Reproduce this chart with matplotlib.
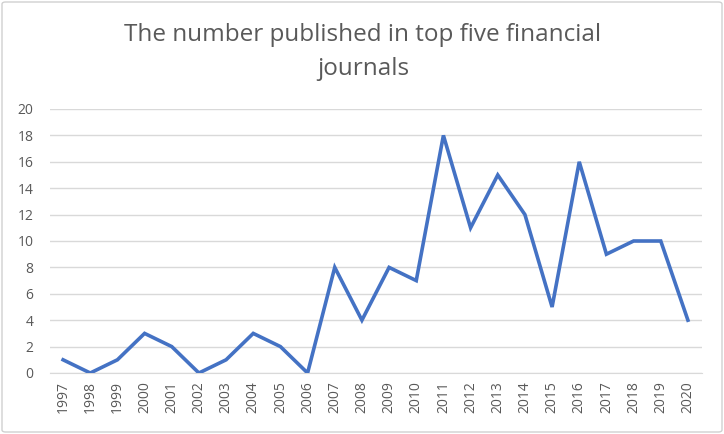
import matplotlib
matplotlib.use("Agg")
import matplotlib.pyplot as plt
from matplotlib.patches import FancyBboxPatch

years = [str(y) for y in range(1997, 2021)]
counts = [1, 0, 1, 3, 2, 0, 1, 3, 2, 0, 8, 4, 8, 7, 18, 11, 15, 12, 5, 16, 9, 10, 10, 4]
yticks = [0, 2, 4, 6, 8, 10, 12, 14, 16, 18, 20]
title = "The number published in top five financial\njournals"

plt.rcParams['font.family'] = ['Open Sans', 'DejaVu Sans']
W, H = 724, 434
fig = plt.figure(figsize=(W / 100, H / 100), dpi=100)
fig.patch.set_facecolor('white')
border = FancyBboxPatch((2 / W, 2 / H), 1 - 4 / W, 1 - 4 / H,
                        boxstyle="round,pad=0,rounding_size=0.005",
                        transform=fig.transFigure, facecolor='none',
                        edgecolor='#D0D0D0', linewidth=1.0, zorder=-1)
fig.patches.append(border)

left, right = 49.5, 701.5
bottom, top = 373, 109
ax = fig.add_axes([left / W, 1 - bottom / H, (right - left) / W, (bottom - top) / H])
ax.set_facecolor('none')
x = list(range(len(years)))
ax.plot(x, counts, color='#4472C4', linewidth=2.6, solid_joinstyle='miter', zorder=3)
ax.set_xlim(-0.5, len(years) - 0.5)
ax.set_ylim(0, 20)
ax.set_yticks(yticks)
ax.set_yticklabels([str(v) for v in yticks], fontsize=10, color='#595959')
ax.set_xticks(x)
ax.set_xticklabels(years, rotation=90, fontsize=10, color='#595959')
ax.grid(axis='y', color='#D9D9D9', linewidth=1.0)
ax.set_axisbelow(True)
for s in ['top', 'right', 'left']:
    ax.spines[s].set_visible(False)
ax.spines['bottom'].set_color('#D9D9D9')
ax.tick_params(axis='both', length=0, pad=6)
ax.tick_params(axis='y', pad=11.5)

fig.text(363 / W, 1 - 52 / H, title, ha='center', va='center', fontsize=17.5,
         color='#595959', linespacing=1.55)
fig.savefig('out.png', dpi=100)
